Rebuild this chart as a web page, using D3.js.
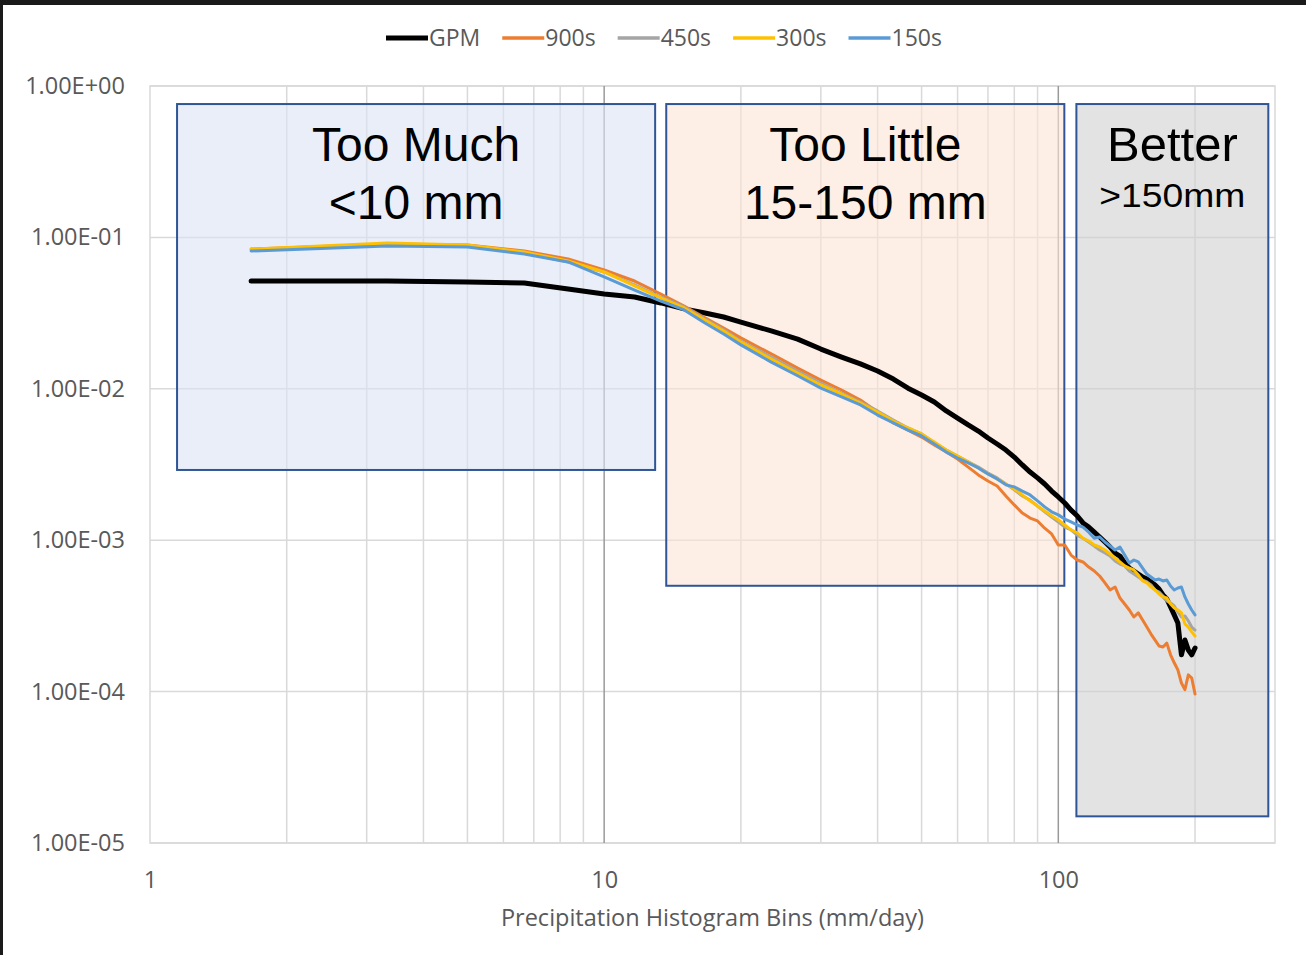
<!DOCTYPE html>
<html><head><meta charset="utf-8">
<script src="https://cdn.jsdelivr.net/npm/d3@7"></script>
<style>body{margin:0;background:#fff} svg{display:block}</style>
</head><body>
<svg id="chart" width="1306" height="955"></svg>
<script>
// Histogram bin centres (mm/day)
const bins = [1.67, 3.33, 5, 6.67, 8.33, 10, 11.67, 13.33, 15, 16.67, 18.33, 20,
  23.33, 26.67, 30, 33.33, 36.67, 40, 43.33, 46.67, 50, 53.33, 56.67, 60,
  63.33, 66.67, 70, 73.33, 76.67, 80, 83.33, 86.67, 90, 93.33, 96.67, 100,
  103.33, 106.67, 110, 113.33, 116.67, 120, 123.33, 126.67, 130, 133.33, 136.67, 140,
  143.33, 146.67, 150, 153.33, 156.67, 160, 163.33, 166.67, 170, 173.33, 176.67, 180,
  183.33, 186.67, 190, 193.33, 196.67, 200];

// Frequency per bin for each data set
const gpm = [0.0515, 0.0515, 0.0508, 0.0500, 0.0456, 0.0423, 0.0404, 0.0369, 0.0337, 0.0317, 0.0298, 0.0276,
  0.0241, 0.0213, 0.0183, 0.0162, 0.0146, 0.0131, 0.0116, 0.0101, 0.00910, 0.00818, 0.00714, 0.00641,
  0.00577, 0.00526, 0.00473, 0.00432, 0.00394, 0.00354, 0.00314, 0.00282, 0.00258, 0.00235, 0.00211, 0.00193,
  0.00176, 0.00158, 0.00145, 0.00130, 0.00122, 0.00113, 0.00105, 9.73e-4, 9.02e-4, 8.23e-4, 7.86e-4, 7.07e-4,
  6.55e-4, 6.26e-4, 5.98e-4, 5.71e-4, 5.54e-4, 5.30e-4, 5.06e-4, 4.76e-4, 4.35e-4, 4.09e-4, 3.62e-4, 3.21e-4,
  2.84e-4, 1.75e-4, 2.19e-4, 1.88e-4, 1.75e-4, 1.94e-4];

const s900 = [0.0838, 0.0905, 0.0891, 0.0813, 0.0720, 0.0609, 0.0515, 0.0423, 0.0352, 0.0294, 0.0252, 0.0217,
  0.0170, 0.0137, 0.0114, 0.00982, 0.00843, 0.00703, 0.00595, 0.00534, 0.00480, 0.00425, 0.00382, 0.00344,
  0.00304, 0.00270, 0.00246, 0.00228, 0.00196, 0.00171, 0.00151, 0.00140, 0.00134, 0.00120, 0.00110, 9.30e-4,
  9.30e-4, 7.98e-4, 7.40e-4, 7.18e-4, 6.65e-4, 6.26e-4, 5.80e-4, 5.22e-4, 4.69e-4, 4.91e-4, 4.15e-4, 3.79e-4,
  3.46e-4, 3.11e-4, 3.31e-4, 2.97e-4, 2.67e-4, 2.40e-4, 2.19e-4, 2.00e-4, 1.97e-4, 2.09e-4, 1.75e-4, 1.55e-4,
  1.39e-4, 1.14e-4, 1.03e-4, 1.29e-4, 1.23e-4, 9.64e-5];

const s450 = [0.0826, 0.0905, 0.0877, 0.0789, 0.0688, 0.0591, 0.0485, 0.0404, 0.0347, 0.0289, 0.0245, 0.0207,
  0.0162, 0.0131, 0.0109, 0.00938, 0.00818, 0.00714, 0.00622, 0.00551, 0.00503, 0.00439, 0.00394, 0.00360,
  0.00329, 0.00304, 0.00278, 0.00258, 0.00235, 0.00215, 0.00196, 0.00184, 0.00168, 0.00154, 0.00142, 0.00132,
  0.00122, 0.00117, 0.00108, 0.00103, 9.73e-4, 9.16e-4, 8.62e-4, 8.23e-4, 7.86e-4, 7.29e-4, 6.96e-4, 6.76e-4,
  6.26e-4, 5.98e-4, 5.71e-4, 5.46e-4, 5.30e-4, 5.06e-4, 4.69e-4, 4.55e-4, 4.28e-4, 3.97e-4, 3.85e-4, 3.68e-4,
  3.36e-4, 3.11e-4, 3.16e-4, 2.93e-4, 2.67e-4, 2.55e-4];

const s300 = [0.0838, 0.0918, 0.0891, 0.0801, 0.0698, 0.0591, 0.0478, 0.0398, 0.0342, 0.0285, 0.0241, 0.0204,
  0.0157, 0.0127, 0.0106, 0.00924, 0.00806, 0.00703, 0.00613, 0.00551, 0.00503, 0.00445, 0.00394, 0.00360,
  0.00329, 0.00300, 0.00274, 0.00254, 0.00235, 0.00218, 0.00199, 0.00182, 0.00168, 0.00156, 0.00145, 0.00136,
  0.00126, 0.00117, 0.00112, 0.00103, 9.88e-4, 9.30e-4, 9.02e-4, 8.62e-4, 8.11e-4, 7.63e-4, 7.18e-4, 6.76e-4,
  6.55e-4, 6.36e-4, 5.89e-4, 5.38e-4, 5.22e-4, 4.91e-4, 4.69e-4, 4.41e-4, 4.22e-4, 4.15e-4, 3.79e-4, 3.57e-4,
  3.46e-4, 3.31e-4, 2.80e-4, 2.67e-4, 2.48e-4, 2.33e-4];

const s150 = [0.0813, 0.0877, 0.0864, 0.0777, 0.0688, 0.0548, 0.0449, 0.0380, 0.0332, 0.0272, 0.0230, 0.0195,
  0.0150, 0.0122, 0.0101, 0.00883, 0.00782, 0.00671, 0.00595, 0.00534, 0.00488, 0.00432, 0.00382, 0.00349,
  0.00324, 0.00300, 0.00274, 0.00254, 0.00232, 0.00225, 0.00211, 0.00199, 0.00182, 0.00166, 0.00154, 0.00147,
  0.00138, 0.00132, 0.00126, 0.00122, 0.00113, 0.00103, 0.00105, 9.73e-4, 9.16e-4, 8.62e-4, 9.02e-4, 7.98e-4,
  7.07e-4, 7.40e-4, 7.18e-4, 6.55e-4, 5.98e-4, 5.71e-4, 5.46e-4, 5.54e-4, 5.38e-4, 5.46e-4, 4.98e-4, 4.69e-4,
  4.83e-4, 4.91e-4, 4.22e-4, 3.79e-4, 3.46e-4, 3.21e-4];

const seriesNames = ["GPM", "900s", "450s", "300s", "150s"];
const seriesValues = [gpm, s900, s450, s300, s150];

const xTickValues = [1, 10, 100];
const xTickLabels = ["1", "10", "100"];
const yTickValues = [1, 1e-1, 1e-2, 1e-3, 1e-4, 1e-5];
const yTickLabels = ["1.00E+00", "1.00E-01", "1.00E-02", "1.00E-03", "1.00E-04", "1.00E-05"];
const xTitle = "Precipitation Histogram Bins (mm/day)";

// Highlighted ranges (data units) and their captions
const regionLabels = [["Too Much", "<10 mm"], ["Too Little", "15-150 mm"], ["Better", ">150mm"]];
const regionX = [[1.147, 12.95], [13.7, 103.1], [109.6, 290]];
const regionY = [[0.76, 0.00291], [0.76, 5.0e-4], [0.76, 1.5e-5]];

// ---- drawing ----
const svg = d3.select("#chart");
const W = 1306, H = 955;
const M = {left: 150, right: 1275, top: 86, bottom: 843};

const colors = ["#000000", "#ed7d31", "#a5a5a5", "#ffc000", "#5b9bd5"];
const widths = [5, 3, 3, 3, 3];
const regionFill = ["#dae3f3", "#fbe5d6", "#d0d0d0"];
const axisFont = "'Open Sans', 'Noto Sans', sans-serif";
const labelFont = "'Liberation Sans', Arial, sans-serif";
const textGrey = "#595959";

svg.append("rect").attr("width", W).attr("height", H).attr("fill", "#fff");
// dark frame on top and left edges
svg.append("rect").attr("x", 0).attr("y", 0).attr("width", W).attr("height", 5).attr("fill", "#1a1a1a");
svg.append("rect").attr("x", 0).attr("y", 0).attr("width", 3).attr("height", H).attr("fill", "#1a1a1a");

const x = d3.scaleLog().domain([1, 300]).range([M.left, M.right]);
const y = d3.scaleLog().domain([1e-5, 1]).range([M.bottom, M.top]);

const grid = svg.append("g");
// horizontal decade lines
grid.selectAll("line.h").data(yTickValues).join("line")
  .attr("x1", M.left).attr("x2", M.right)
  .attr("y1", d => y(d)).attr("y2", d => y(d))
  .attr("stroke", "#d9d9d9").attr("stroke-width", 1.5);
// vertical minor lines
const minor = [];
[1, 10, 100].forEach(dec => { for (let k = 2; k <= 9; k++) if (dec * k < 300) minor.push(dec * k); });
grid.selectAll("line.vm").data(minor).join("line")
  .attr("x1", d => x(d)).attr("x2", d => x(d))
  .attr("y1", M.top).attr("y2", M.bottom)
  .attr("stroke", "#d9d9d9").attr("stroke-width", 1.5);
// plot border
grid.append("rect").attr("x", M.left).attr("y", M.top)
  .attr("width", M.right - M.left).attr("height", M.bottom - M.top)
  .attr("fill", "none").attr("stroke", "#d9d9d9").attr("stroke-width", 1.5);
// major vertical lines
grid.selectAll("line.vM").data([10, 100]).join("line")
  .attr("x1", d => x(d)).attr("x2", d => x(d))
  .attr("y1", M.top).attr("y2", M.bottom)
  .attr("stroke", "#9a9a9a").attr("stroke-width", 1.5);

// highlighted ranges
const regions = svg.append("g");
regionLabels.forEach((lab, i) => {
  regions.append("rect")
    .attr("x", x(regionX[i][0])).attr("y", y(regionY[i][0]))
    .attr("width", x(regionX[i][1]) - x(regionX[i][0]))
    .attr("height", y(regionY[i][1]) - y(regionY[i][0]))
    .attr("fill", regionFill[i]).attr("fill-opacity", 0.6)
    .attr("stroke", "#2f5597").attr("stroke-width", 2);
});

// series lines
const line = d3.line().x((d, i) => x(bins[i])).y(d => y(d));
const lines = svg.append("g");
seriesValues.forEach((vals, i) => {
  lines.append("path").datum(vals)
    .attr("d", line)
    .attr("fill", "none")
    .attr("stroke", colors[i])
    .attr("stroke-width", widths[i])
    .attr("stroke-linejoin", "round")
    .attr("stroke-linecap", "round");
});

// region captions
const capSizes = [[48, 48], [48, 48], [49, 34]];
const capBase = [[161, 219], [161, 219], [161, 207]];
regionLabels.forEach((lab, i) => {
  const cx = (x(regionX[i][0]) + x(regionX[i][1])) / 2;
  lab.forEach((t, j) => {
    const txt = svg.append("text").attr("x", cx).attr("y", capBase[i][j])
      .attr("text-anchor", "middle")
      .attr("font-family", labelFont).attr("font-size", capSizes[i][j])
      .attr("fill", "#000").text(t);
    if (i === 2 && j === 1) txt.attr("textLength", 146).attr("lengthAdjust", "spacingAndGlyphs");
  });
});

// axes
const yAxis = d3.axisLeft(y).tickValues(yTickValues)
  .tickFormat((d, i) => yTickLabels[i]).tickSize(0).tickPadding(25);
svg.append("g").attr("transform", `translate(${M.left},0)`).call(yAxis)
  .call(g => g.select(".domain").remove())
  .call(g => g.selectAll("text").attr("font-family", axisFont).attr("font-size", 23.5).attr("fill", textGrey));

const xAxis = d3.axisBottom(x).tickValues(xTickValues)
  .tickFormat((d, i) => xTickLabels[i]).tickSize(0).tickPadding(28);
svg.append("g").attr("transform", `translate(0,${M.bottom})`).call(xAxis)
  .call(g => g.select(".domain").remove())
  .call(g => g.selectAll("text").attr("font-family", axisFont).attr("font-size", 23.5).attr("fill", textGrey));

svg.append("text").attr("x", (M.left + M.right) / 2).attr("y", 926)
  .attr("text-anchor", "middle").attr("font-family", axisFont).attr("font-size", 23.5)
  .attr("fill", textGrey).text(xTitle);

// legend
const legend = svg.append("g");
let cx = 386;
seriesNames.forEach((name, i) => {
  legend.append("line").attr("x1", cx).attr("x2", cx + 42).attr("y1", 38).attr("y2", 38)
    .attr("stroke", colors[i]).attr("stroke-width", i === 0 ? 5 : 3.5);
  const t = legend.append("text").attr("x", cx + 43).attr("y", 46)
    .attr("font-family", axisFont).attr("font-size", 23).attr("fill", textGrey).text(name);
  cx += 43 + t.node().getComputedTextLength() + 22;
});
</script>
</body></html>
